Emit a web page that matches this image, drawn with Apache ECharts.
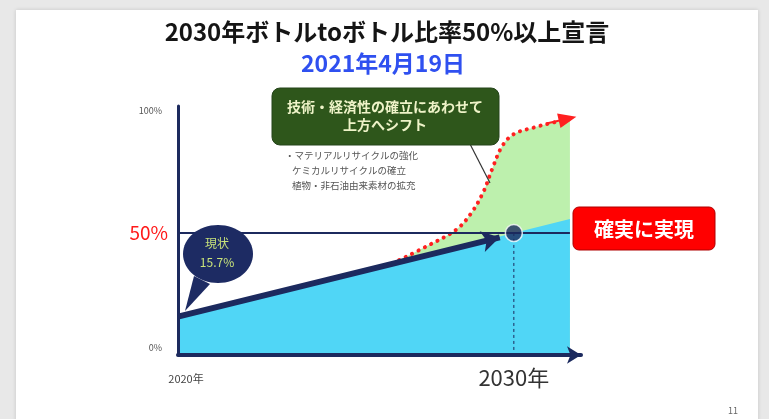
<!DOCTYPE html>
<html>
<head>
<meta charset="utf-8">
<script src="https://cdn.jsdelivr.net/npm/echarts@6/dist/echarts.min.js"></script>
<style>
html,body{margin:0;padding:0;background:#fff;}
#main{width:769px;height:419px;}
</style>
</head>
<body>
<div id="main"></div>
<script>
// ---- data ----
var startYear = 2020;
var targetYear = 2030;
var currentRate = 15.7;      // 現状 15.7%
var targetRate = 50;         // 2030年 50%
var blueTrend = [[2020, 15.7], [2031.67, 55.7]];
var navyArrow = [[2020, 15.7], [2029.58, 48.2]];
var shiftCurve = [
  [2026.4, 37.6], [2027.4, 44.5], [2028.3, 51.5], [2028.75, 58.5],
  [2029.1, 67.0], [2029.35, 76.0], [2029.65, 85.5], [2030.0, 90.5],
  [2030.6, 93.2], [2031.2, 95.3], [2031.67, 96.5]
];
var shiftArrow = [[2031.0, 94.9], [2031.6, 96.8]];
var fiftyLine = [[2020, 50], [2031.67, 50]];
var targetDrop = [[2030, 50], [2030, 0]];
var targetPoint = [[2030, 50]];
var yTickLabels = {0: '0%', 50: '50%', 100: '100%'};
var xTickLabels = {2020: '2020年', 2030: '2030年'};

var NAVY = '#1c2a5e';
var FONT = '"Noto Sans CJK JP", "Noto Sans", sans-serif';

var chart = echarts.init(document.getElementById('main'), null, {renderer: 'canvas'});
var option = {
  backgroundColor: '#e8e8e8',
  textStyle: {fontFamily: FONT},
  animation: false,
  grid: {left: 178, top: 106, width: 403, height: 249, containLabel: false},
  xAxis: {
    type: 'value', min: 2020, max: 2032, interval: 10, z: 10,
    splitLine: {show: false}, axisTick: {show: false},
    axisLine: {show: true, symbol: ['none', 'arrow'], symbolSize: [13, 14],
      lineStyle: {color: NAVY, width: 4}},
    axisLabel: {
      margin: 10,
      formatter: function (v) {
        if (v === 2020) return '{s|' + xTickLabels[2020] + '}';
        if (v === 2030) return '{b|' + xTickLabels[2030] + '}';
        return '';
      },
      rich: {
        s: {fontSize: 11, color: '#444', padding: [8, 0, 0, 16], fontFamily: FONT},
        b: {fontSize: 22, color: '#333', padding: [2, 0, 0, 0], fontFamily: FONT}
      }
    }
  },
  yAxis: {
    type: 'value', min: 0, max: 102, interval: 50, z: 10,
    splitLine: {show: false}, axisTick: {show: false},
    axisLine: {show: true, lineStyle: {color: NAVY, width: 3}},
    axisLabel: {
      margin: 10,
      formatter: function (v) {
        if (v === 50) return '{r|' + yTickLabels[50] + '}';
        if (v === 0) return '{z|' + yTickLabels[0] + '}';
        if (v === 100) return '{s|' + yTickLabels[100] + '}';
        return '';
      },
      rich: {
        s: {fontSize: 9, color: '#555', padding: [0, 6, 0, 0], fontFamily: FONT},
        z: {fontSize: 9, color: '#555', padding: [0, 6, 14, 0], fontFamily: FONT},
        r: {fontSize: 19, color: '#ff1a1a', fontFamily: FONT}
      }
    }
  },
  series: [
    {
      name: 'shift', type: 'line', data: shiftCurve, smooth: 0.35, showSymbol: false,
      symbol: 'none',
      lineStyle: {color: '#ff2020', width: 4, type: [0.1, 7], cap: 'round'},
      areaStyle: {color: '#bdf0ad', opacity: 1},
      z: 2,
      markLine: {
        silent: true, symbol: ['none', 'triangle'], symbolSize: [15, 18],
        label: {show: false},
        lineStyle: {color: '#ff2020', width: 2, type: 'solid'},
        data: [[{coord: shiftArrow[0]}, {coord: shiftArrow[1]}]]
      }
    },
    {
      name: 'trend', type: 'line', data: blueTrend, showSymbol: false, symbol: 'none',
      lineStyle: {width: 0}, areaStyle: {color: '#50d6f6', opacity: 1}, z: 3
    },
    {
      name: 'fifty', type: 'line', data: fiftyLine, showSymbol: false, symbol: 'none',
      lineStyle: {color: NAVY, width: 2}, z: 4
    },
    {
      name: 'drop', type: 'line', data: targetDrop, showSymbol: false, symbol: 'none',
      lineStyle: {color: NAVY, width: 1, type: [3, 3]}, z: 4
    },
    {
      name: 'arrow', type: 'line', data: navyArrow, showSymbol: false, symbol: 'none',
      lineStyle: {width: 0}, z: 5,
      markLine: {
        silent: true, symbol: ['none', 'arrow'], symbolSize: [16, 18],
        label: {show: false},
        lineStyle: {color: NAVY, width: 6, type: 'solid'},
        data: [[{coord: navyArrow[0]}, {coord: navyArrow[1]}]]
      }
    },
    {
      name: 'point', type: 'scatter', data: targetPoint, symbolSize: 17,
      itemStyle: {color: NAVY, borderColor: '#ffffff', borderWidth: 1.5}, z: 6
    }
  ],
  graphic: [
    {type: 'rect', z: -10, shape: {x: 16, y: 10, width: 742, height: 420},
      style: {fill: '#ffffff', shadowBlur: 4, shadowColor: 'rgba(0,0,0,0.15)'}},
    {type: 'text', z: 20, style: {x: 387, y: 32, text: '2030年ボトルtoボトル比率50%以上宣言',
      font: 'bold 24px ' + FONT, fill: '#151515', textAlign: 'center', textVerticalAlign: 'middle'}},
    {type: 'text', z: 20, style: {x: 383, y: 63, text: '2021年4月19日',
      font: 'bold 23px ' + FONT, fill: '#2f50f0', textAlign: 'center', textVerticalAlign: 'middle'}},
    // green callout
    {type: 'line', z: 20, shape: {x1: 470, y1: 144, x2: 490, y2: 183}, style: {stroke: '#333', lineWidth: 1.2}},
    {type: 'rect', z: 20, shape: {x: 272, y: 88, width: 227, height: 57, r: 8},
      style: {fill: '#2e561b', stroke: '#24441a', lineWidth: 1}},
    {type: 'text', z: 21, style: {x: 385, y: 107, text: '技術・経済性の確立にあわせて',
      font: 'bold 14px ' + FONT, fill: '#eef3c8', textAlign: 'center', textVerticalAlign: 'middle'}},
    {type: 'text', z: 21, style: {x: 385, y: 125, text: '上方へシフト',
      font: 'bold 14px ' + FONT, fill: '#eef3c8', textAlign: 'center', textVerticalAlign: 'middle'}},
    {type: 'text', z: 20, style: {x: 285, y: 155, text: '・マテリアルリサイクルの強化',
      font: '9.5px ' + FONT, fill: '#555', textVerticalAlign: 'middle'}},
    {type: 'text', z: 20, style: {x: 292, y: 170, text: 'ケミカルリサイクルの確立',
      font: '9.5px ' + FONT, fill: '#555', textVerticalAlign: 'middle'}},
    {type: 'text', z: 20, style: {x: 292, y: 185, text: '植物・非石油由来素材の拡充',
      font: '9.5px ' + FONT, fill: '#555', textVerticalAlign: 'middle'}},
    // bubble
    {type: 'polygon', z: 20, shape: {points: [[194, 276], [185, 311], [210, 284]]}, style: {fill: '#1d2b63'}},
    {type: 'ellipse', z: 20, shape: {cx: 218, cy: 254, rx: 35, ry: 29}, style: {fill: '#1d2b63'}},
    {type: 'text', z: 21, style: {x: 217, y: 253, text: '現状\n15.7%', lineHeight: 19,
      font: '12px ' + FONT, fill: '#c8e27a', textAlign: 'center', textVerticalAlign: 'middle'}},
    // red box
    {type: 'rect', z: 20, shape: {x: 573, y: 207, width: 142, height: 43, r: 6},
      style: {fill: '#ff0000', stroke: '#b00000', lineWidth: 1}},
    {type: 'text', z: 21, style: {x: 644, y: 229, text: '確実に実現',
      font: 'bold 20px ' + FONT, fill: '#ffffff', textAlign: 'center', textVerticalAlign: 'middle'}},
    {type: 'text', z: 20, style: {x: 733, y: 411, text: '11',
      font: '9px ' + FONT, fill: '#666', textAlign: 'center', textVerticalAlign: 'middle'}}
  ]
};
chart.setOption(option);
</script>
</body>
</html>
